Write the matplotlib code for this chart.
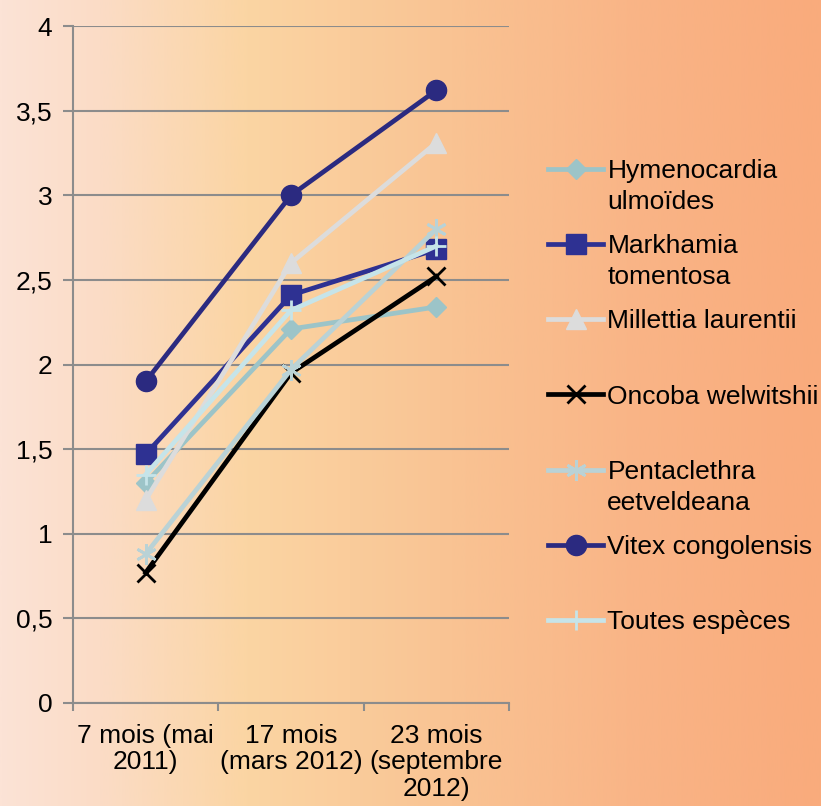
import matplotlib
matplotlib.use("Agg")
import matplotlib.pyplot as plt
import matplotlib.colors as mcolors
import matplotlib.transforms as mtransforms
from matplotlib.ticker import FuncFormatter, FixedLocator
import numpy as np

plt.rcParams['font.family'] = ['Liberation Sans', 'DejaVu Sans']

categories = ["7 mois (mai\n2011)", "17 mois\n(mars 2012)", "23 mois\n(septembre\n2012)"]

hymenocardia = [1.30, 2.21, 2.34]
markhamia = [1.47, 2.41, 2.68]
millettia = [1.20, 2.60, 3.31]
oncoba = [0.77, 1.95, 2.52]
pentaclethra = [0.88, 1.97, 2.80]
vitex = [1.90, 3.00, 3.62]
toutes = [1.35, 2.32, 2.70]

series = [
    ("Hymenocardia", "ulmoïdes", hymenocardia, '#9CC4C8', 'D', 10),
    ("Markhamia", "tomentosa", markhamia, '#2E3192', 's', 14),
    ("Millettia laurentii", None, millettia, '#DCDCDC', '^', 14),
    ("Oncoba welwitshii", None, oncoba, '#000000', 'x', 13),
    ("Pentaclethra", "eetveldeana", pentaclethra, '#B9D2D6', (6, 2, 0), 15),
    ("Vitex congolensis", None, vitex, '#2B2A80', 'o', 14.5),
    ("Toutes espèces", None, toutes, '#C6E4E9', '+', 15),
]

FS = 19
W, H = 821, 806
fig = plt.figure(figsize=(W / 100, H / 100), dpi=100)

# background gradient (left pink -> peach -> salmon)
bg = fig.add_axes([0, 0, 1, 1], zorder=-10)
stops = [(0.0, '#FCE3D6'), (0.12, '#FBDCC6'), (0.3, '#FBD5A3'),
         (0.55, '#F9C393'), (0.78, '#F9B486'), (1.0, '#F9AB7C')]
cmap = mcolors.LinearSegmentedColormap.from_list('bg', stops)
bg.imshow(np.linspace(0, 1, 512)[None, :], aspect='auto', cmap=cmap,
          extent=[0, 1, 0, 1])
bg.axis('off')

ax = fig.add_axes([73 / W, 1 - 703 / H, (509 - 73) / W, (703 - 26) / H])
ax.set_facecolor('none')

x = np.arange(len(categories)) + 0.5
for name, extra, vals, col, mk, ms in series:
    ax.plot(x, vals, color=col, lw=3.4, marker=mk, markersize=ms,
            markerfacecolor=col, markeredgecolor=col,
            markeredgewidth=2 if mk in ('x', '+') or isinstance(mk, tuple) else 1,
            label=name, clip_on=False)

ax.set_xlim(0, 3)
ax.set_ylim(0, 4)
ax.set_yticks(np.arange(0, 4.01, 0.5))
ax.yaxis.set_major_formatter(FuncFormatter(lambda v, p: ('%g' % v).replace('.', ',')))
ax.yaxis.grid(True, color='#8C8C8C', lw=1.5)
ax.set_axisbelow(True)

ax.set_xticks(x)
ax.set_xticklabels(categories, ha='center', linespacing=1.14)
ax.xaxis.set_minor_locator(FixedLocator([0, 1, 2, 3]))
ax.tick_params(axis='x', which='major', length=0, pad=15, labelsize=FS)
ax.tick_params(axis='x', which='minor', length=6, width=1.5, color='#8C8C8C')
ax.tick_params(axis='y', length=7, width=1.5, color='#8C8C8C', pad=8, labelsize=FS)

for s in ['top', 'right']:
    ax.spines[s].set_visible(False)
for s in ['left', 'bottom']:
    ax.spines[s].set_color('#8C8C8C')
    ax.spines[s].set_linewidth(1.5)

leg = fig.legend(loc='upper left', bbox_to_anchor=(548 / W, 1 - 159 / H),
                 frameon=False, fontsize=FS, handlelength=2.1,
                 handletextpad=0.15, labelspacing=1.94, borderpad=0,
                 borderaxespad=0)

fig.canvas.draw()
seconds = {name: extra for name, extra, *_ in series if extra}
for t in leg.get_texts():
    extra = seconds.get(t.get_text())
    if extra:
        tr = mtransforms.offset_copy(t.get_transform(), fig=fig, x=0, y=-31, units='dots')
        fig.text(*t.get_position(), extra, transform=tr, fontsize=FS,
                 ha=t.get_ha(), va=t.get_va())

fig.savefig("out.png", dpi=100)
